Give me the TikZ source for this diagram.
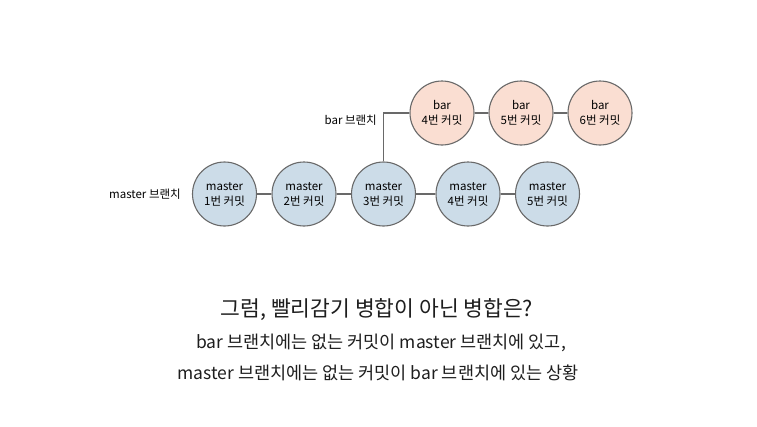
\documentclass[tikz,border=0pt]{standalone}
\usepackage{fontspec}
\setmainfont{Noto Sans CJK KR}
\usetikzlibrary{positioning}
\definecolor{masterblue}{RGB}{204,220,232}
\definecolor{barpeach}{RGB}{250,222,210}
\definecolor{edgegray}{RGB}{105,105,105}
\definecolor{textdark}{RGB}{30,30,30}

\begin{document}
\begin{tikzpicture}[x=1pt, y=-1pt,
  commit/.style={circle, draw=edgegray, line width=1.1pt, minimum size=64pt,
    inner sep=0pt, align=center, font=\fontsize{11.5}{15}\selectfont},
  link/.style={draw=edgegray, line width=1.1pt},
  branchlabel/.style={font=\fontsize{11.5}{13}\selectfont, inner sep=0pt}]
\useasboundingbox (0,0) rectangle (757,426);

\foreach \x [count = \n] in {224.5,304,383.5,468,547.5}{
    \node[commit, fill=masterblue] (m\n) at (\x,194) {master\\{\n}번 커밋};
  }
\foreach \x [count = \n, evaluate = \n as \k using int(\n+3)] in {442,521,600}{
    \node[commit, fill=barpeach] (b\k) at (\x,113) {bar\\{\k}번 커밋};
  }

\foreach \a/\b in {m1/m2, m2/m3, m3/m4, m4/m5, b4/b5, b5/b6}
  \draw[link] (\a) -- (\b);
\draw[link] (m3.north) |- (b4.west);

\node[branchlabel, left=11pt of m1] (mlabel) {master 브랜치};
\node[branchlabel, anchor=east] (blabel) at (377,120) {bar 브랜치};

% question and explanation below
\node[textdark, font=\fontsize{21.5}{25}\selectfont] (title) at (377,310)
  {그럼, 빨리감기 병합이 아닌 병합은?};
\node[textdark, font=\fontsize{17.5}{20}\selectfont] (line1) at (381,343)
  {bar 브랜치에는 없는 커밋이 master 브랜치에 있고,};
\node[textdark, font=\fontsize{17.5}{20}\selectfont] (line2) at (378,373)
  {master 브랜치에는 없는 커밋이 bar 브랜치에 있는 상황};
\end{tikzpicture}
\end{document}
